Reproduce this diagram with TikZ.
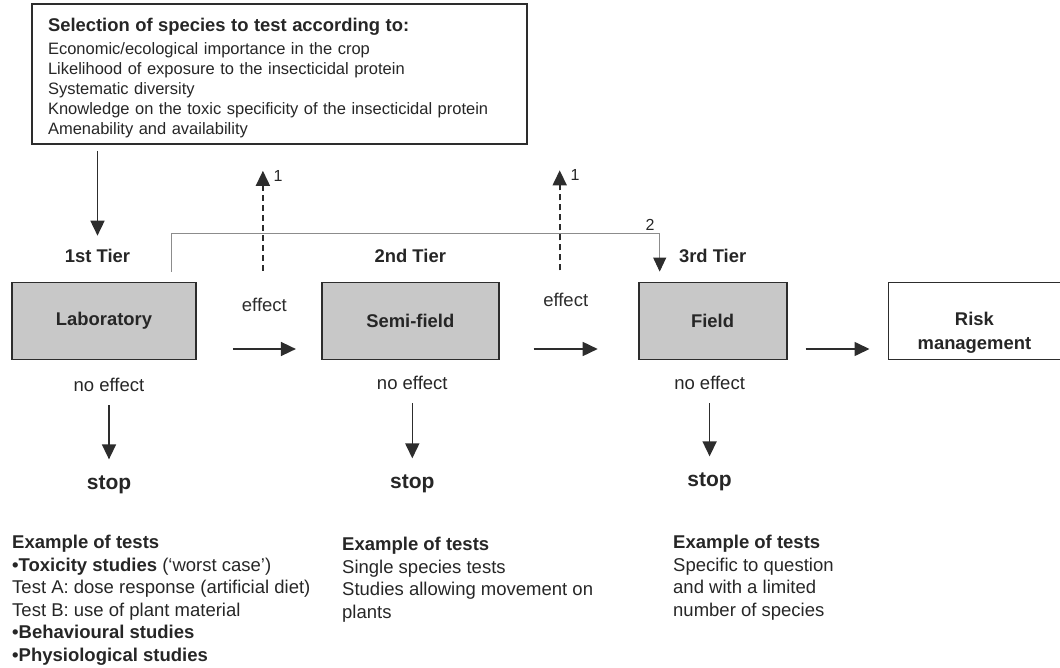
\documentclass[tikz,border=0pt]{standalone}
\usepackage{fontspec}
\setmainfont{Liberation Sans}
\usetikzlibrary{arrows.meta, positioning}
\definecolor{boxgray}{RGB}{200,200,200}
\definecolor{inkgray}{RGB}{45,45,45}
\tikzstyle{tierbox}=[rectangle, draw=inkgray, line width=1.8pt, fill=boxgray,
  minimum height=77pt, inner sep=0pt, font=\fontsize{18.4}{22}\selectfont\bfseries]
\tikzstyle{selbox}=[rectangle, draw=inkgray, line width=1.8pt, minimum width=495pt,
  minimum height=140pt, text width=463pt, inner xsep=16pt, align=left,
  text height=21pt, font=\fontsize{16.5}{20}\selectfont]
\tikzstyle{plainlbl}=[inner sep=0pt, font=\fontsize{18.5}{22}\selectfont]
\tikzstyle{tierlbl}=[inner sep=0pt, font=\fontsize{18.4}{22}\selectfont\bfseries]
\tikzstyle{stoplbl}=[inner sep=0pt, font=\fontsize{21}{25}\selectfont\bfseries]
\tikzstyle{numlbl}=[inner sep=0pt, text=black!85, font=\fontsize{16}{19}\selectfont]
\tikzstyle{extext}=[inner sep=0pt, anchor=north west, align=left,
  font=\fontsize{18.5}{22.5}\selectfont]
\tikzstyle{arrow}=[-{Triangle[length=15pt, width=14pt]}, line width=1.6pt, color=inkgray]
\tikzstyle{dasharrow}=[arrow, dash pattern=on 6pt off 4pt]
\tikzstyle{link}=[-{Triangle[length=14pt, width=13pt, color=inkgray]}, line width=0.9pt, color=black!45]

\begin{document}
\begin{tikzpicture}[x=1pt, y=-1pt, text=black!85]
  \useasboundingbox (0,0) rectangle (1060,668);
  % selection criteria
  \node[selbox] (sel) at (279.5,74)
    {{\fontsize{18.4}{22}\selectfont\bfseries Selection of species to test according to:}\\[2.5pt]
     Economic/ecological importance in the crop\\
     Likelihood of exposure to the insecticidal protein\\
     Systematic diversity\\
     Knowledge on the toxic specificity of the insecticidal protein\\
     Amenability and availability};
  % the tiers
  \node[tierbox, minimum width=184pt] (lab) at (104,321) {Laboratory};
  \node[tierbox, minimum width=177pt, right=124pt of lab] (semi) {Semi-field};
  \node[tierbox, minimum width=148pt, right=138pt of semi] (field) {Field};
  \node[tierbox, minimum width=172pt, right=100pt of field, fill=white, align=center,
    text height=61pt] (risk) {Risk\\[2pt]management};
  \node[tierlbl, above=19pt of lab, xshift=-6.5pt] (t1) {1st Tier};
  \node[tierlbl, above=19pt of semi] (t2) {2nd Tier};
  \node[tierlbl, above=19pt of field] (t3) {3rd Tier};
  \node[plainlbl, below=18pt of lab, xshift=5pt] (ne1) {no effect};
  \node[plainlbl, below=16pt of semi, xshift=2pt] (ne2) {no effect};
  \node[plainlbl, below=16pt of field, xshift=-3pt] (ne3) {no effect};
  \node[stoplbl, below=83pt of ne1] (stop1) {stop};
  \node[stoplbl, below=84pt of ne2] (stop2) {stop};
  \node[stoplbl, below=82pt of ne3] (stop3) {stop};
  % examples
  \node[extext] (ex1) at (12,535) {\textbf{Example of tests}\\
    \textbf{•Toxicity studies} (‘worst case’)\\
    Test A: dose response (artificial diet)\\
    Test B: use of plant material\\
    \textbf{•Behavioural studies}\\
    \textbf{•Physiological studies}};
  \node[extext] (ex2) at (342,537) {\textbf{Example of tests}\\
    Single species tests\\
    Studies allowing movement on\\
    plants};
  \node[extext] (ex3) at (673,535) {\textbf{Example of tests}\\
    Specific to question\\
    and with a limited\\
    number of species};
  % connectors
  \draw[arrow, shorten <=6pt, shorten >=13pt] (sel.south -| t1.north) -- (t1.north);
  \draw[arrow] ([xshift=36pt, yshift=-28pt]lab.east) -- ([xshift=-25pt, yshift=-28pt]semi.west)
    node[plainlbl, midway, above=37pt] (eff1) {effect};
  \draw[arrow] ([xshift=34pt, yshift=-28pt]semi.east) -- ([xshift=-40pt, yshift=-28pt]field.west)
    node[plainlbl, midway, above=42pt] (eff2) {effect};
  \draw[arrow] ([xshift=18pt, yshift=-28pt]field.east) -- ([xshift=-18pt, yshift=-28pt]risk.west);
  \draw[dasharrow] ([xshift=-1.5pt, yshift=26pt]eff1.north) -- ++(0pt,100pt)
    node[numlbl, anchor=west, xshift=10pt, yshift=-5pt] (one1) {1};
  \draw[dasharrow] ([xshift=-6pt, yshift=21.5pt]eff2.north) -- ++(0pt,100pt)
    node[numlbl, anchor=west, xshift=10pt, yshift=-5pt] (one2) {1};
  \draw[link] ([xshift=-25pt, yshift=10pt]lab.north east) -- ++(0pt,38pt)
    -| node[numlbl, pos=0.49, above=3pt] (two) {2} ([xshift=22pt, yshift=10pt]field.north west);
  \draw[arrow, shorten <=13pt, shorten >=16pt] (ne1) -- (stop1);
  \draw[arrow, shorten <=13pt, shorten >=16pt] (ne2) -- (stop2);
  \draw[arrow, shorten <=13pt, shorten >=16pt] (ne3) -- (stop3);
\end{tikzpicture}
\end{document}
